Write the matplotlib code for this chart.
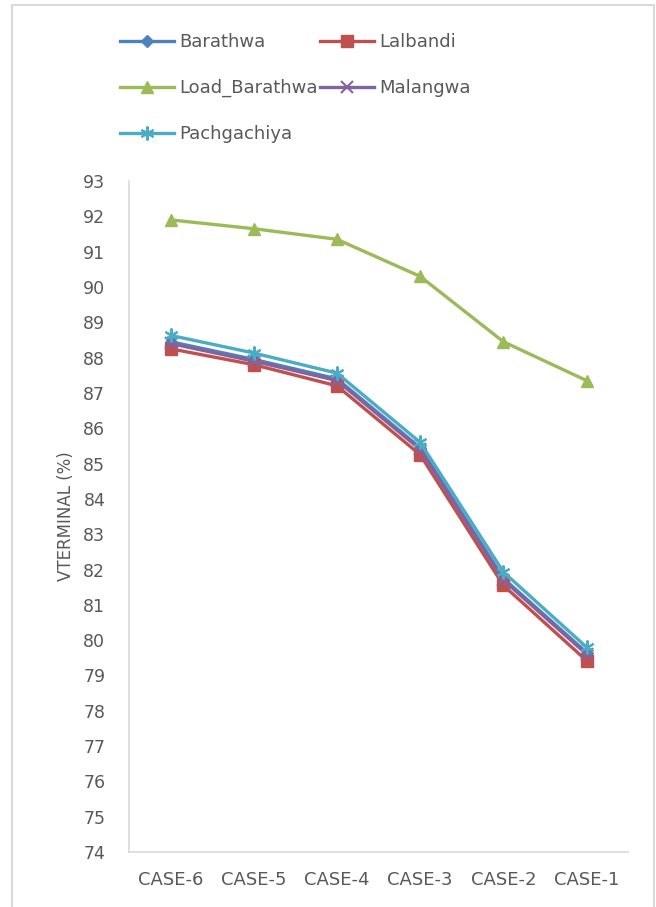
import matplotlib.pyplot as plt
from matplotlib.patches import Rectangle

# data
cases = ['CASE-6', 'CASE-5', 'CASE-4', 'CASE-3', 'CASE-2', 'CASE-1']
barathwa = [88.45, 87.95, 87.40, 85.45, 81.75, 79.65]
lalbandi = [88.25, 87.80, 87.20, 85.25, 81.55, 79.42]
load_barathwa = [91.90, 91.65, 91.35, 90.30, 88.45, 87.35]
malangwa = [88.40, 87.90, 87.35, 85.40, 81.70, 79.60]
pachgachiya = [88.63, 88.13, 87.56, 85.60, 81.93, 79.80]
yticks = list(range(74, 94))

plt.rcParams['font.family'] = ['DejaVu Sans']

fig = plt.figure(figsize=(6.56, 9.07), dpi=100)
ax = fig.add_axes([0.1966, 0.0606, 0.761, 0.7398])

x = list(range(len(cases)))
lw = 2.4
h1, = ax.plot(x, barathwa, color='#4F81BD', lw=lw, marker='D', ms=6, label='Barathwa')
h2, = ax.plot(x, lalbandi, color='#C0504D', lw=lw, marker='s', ms=8, label='Lalbandi')
h3, = ax.plot(x, load_barathwa, color='#9BBB59', lw=lw, marker='^', ms=9, label='Load_Barathwa')
h4, = ax.plot(x, malangwa, color='#8064A2', lw=lw, marker='x', ms=8, mew=1.5, label='Malangwa')
h5, = ax.plot(x, pachgachiya, color='#4BACC6', lw=lw, marker=(6, 2, 0), ms=10, mew=1.5, label='Pachgachiya')

ax.set_xlim(-0.5, 5.5)
ax.set_ylim(74, 93)
ax.set_xticks(x)
ax.set_xticklabels(cases)
ax.set_yticks(yticks)
ax.tick_params(length=0, labelsize=12.5, colors='#595959')
ax.tick_params(axis='x', labelsize=13, pad=14)
ax.tick_params(axis='y', pad=17)
for s in ['top', 'right']:
    ax.spines[s].set_visible(False)
for s in ['left', 'bottom']:
    ax.spines[s].set_color('#D9D9D9')
    ax.spines[s].set_linewidth(1.2)
ax.set_ylabel('VTERMINAL (%)', fontsize=12, color='#595959', labelpad=6)

fig.legend([h1, h3, h5, h2, h4],
           ['Barathwa', 'Load_Barathwa', 'Pachgachiya', 'Lalbandi', 'Malangwa'],
           ncol=2, loc='upper left', bbox_to_anchor=(0.183, 0.9636),
           frameon=False, borderpad=0, borderaxespad=0, fontsize=13,
           handlelength=3.0, handletextpad=0.3, labelspacing=1.55,
           columnspacing=0.1, labelcolor='#595959')

# light outer chart border
fig.patches.append(Rectangle((12 / 656, -0.05), (654 - 12) / 656, 1.05 - 5 / 907,
                             transform=fig.transFigure, fill=False,
                             edgecolor='#D9D9D9', lw=1.5))

fig.savefig('out.png', dpi=100)
